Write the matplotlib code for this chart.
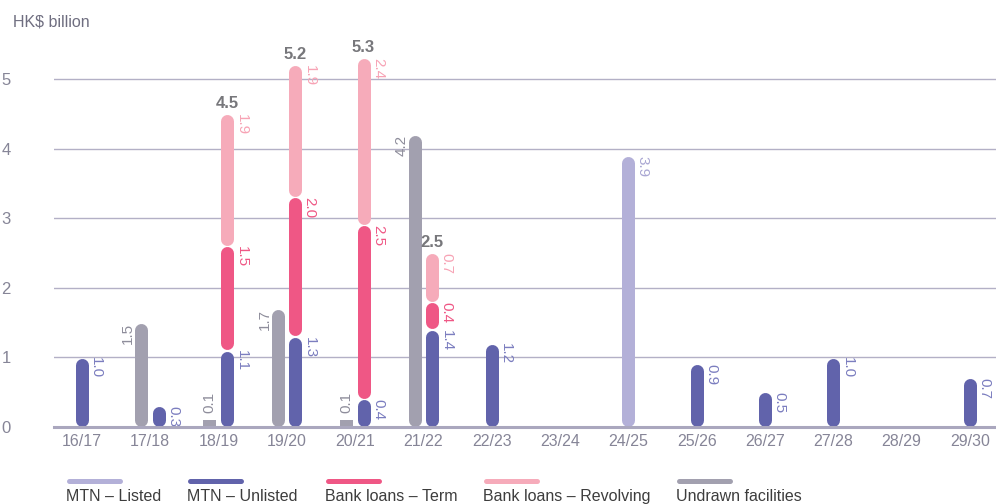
import matplotlib
matplotlib.use("Agg")
import matplotlib.pyplot as plt
from matplotlib.lines import Line2D

plt.rcParams.update({
    "font.family": ["Liberation Sans", "DejaVu Sans"],
    "font.size": 11.5,
})

years = ["16/17", "17/18", "18/19", "19/20", "20/21", "21/22", "22/23",
         "23/24", "24/25", "25/26", "26/27", "27/28", "28/29", "29/30"]
mtn_listed = [0, 0, 0, 0, 0, 0, 0, 0, 3.9, 0, 0, 0, 0, 0]
mtn_unlisted = [1.0, 0.3, 1.1, 1.3, 0.4, 1.4, 1.2, 0, 0, 0.9, 0.5, 1.0, 0, 0.7]
bank_term = [0, 0, 1.5, 2.0, 2.5, 0.4, 0, 0, 0, 0, 0, 0, 0, 0]
bank_revolving = [0, 0, 1.9, 1.9, 2.4, 0.7, 0, 0, 0, 0, 0, 0, 0, 0]
undrawn = [0, 1.5, 0.1, 1.7, 0.1, 4.2, 0, 0, 0, 0, 0, 0, 0, 0]

# name, values, bar colour, label colour
stack = [
    ("MTN – Listed", mtn_listed, "#b3b0d8", "#aaa7d3"),
    ("MTN – Unlisted", mtn_unlisted, "#6163ab", "#7b7dbf"),
    ("Bank loans – Term", bank_term, "#ef5785", "#ef5785"),
    ("Bank loans – Revolving", bank_revolving, "#f6abba", "#f7a3b5"),
]
GREY, GREY_TXT = "#a2a0af", "#8e8d9b"
TOTAL_TXT = "#77777b"
TICK_TXT = "#868597"
GRID = "#b3b0c6"

W, H = 996, 504
fig = plt.figure(figsize=(W / 100, H / 100), dpi=100)
ax_l, ax_r, ax_b, ax_t = 54, 996, 427, 30
ax = fig.add_axes([ax_l / W, (H - ax_b) / H, (ax_r - ax_l) / W, (ax_b - ax_t) / H])

px_x = 68.33          # pixels per category
px_y = 69.6           # pixels per HK$ bn
x0 = 81.7 - ax_l      # first category centre in px from axes left
ax.set_xlim(-x0 / px_x, (ax_r - ax_l - x0) / px_x)
ax.set_ylim(0, (ax_b - ax_t) / px_y)

bar_px = 13
bar_pt = bar_px * 0.72
r = bar_px / 2 / px_y
gap = 0.6 / px_y


def capsule(x, y0, y1, color):
    if (y1 - y0) * px_y < bar_px:
        ax.bar(x, y1 - y0, bottom=y0, width=bar_px / px_x, color=color,
               linewidth=0, zorder=3)
    else:
        ax.plot([x, x], [y0 + r + gap, y1 - r - gap], color=color,
                linewidth=bar_pt, solid_capstyle="round", zorder=3)


for i, yr in enumerate(years):
    has_grey = undrawn[i] > 0
    xs = i + 0.125 if has_grey else i
    if has_grey:
        xg = i - 0.125
        v = undrawn[i]
        capsule(xg, 0, v, GREY)
        if v < 0.2:
            ax.text(xg, v + 7 / px_y, f"{v:.1f}", rotation=90, ha="center",
                    va="bottom", color=GREY_TXT, fontsize=11)
        else:
            ax.text(xg - 13.5 / px_x, v, f"{v:.1f}", rotation=90, ha="center",
                    va="top", color=GREY_TXT, fontsize=11)
    bottom = 0
    parts = 0
    for name, vals, col, tcol in stack:
        v = vals[i]
        if v <= 0:
            continue
        capsule(xs, bottom, bottom + v, col)
        ax.text(xs + 14.5 / px_x, bottom + v, f"{v:.1f}", rotation=270,
                ha="center", va="top", color=tcol, fontsize=11)
        bottom += v
        parts += 1
    if parts > 1:
        ax.text(xs, bottom + 6 / px_y, f"{bottom:.1f}", ha="center",
                va="baseline", color=TOTAL_TXT, fontsize=12, fontweight="bold")

ax.set_yticks(range(0, 6))
ax.set_yticklabels([str(t) for t in range(0, 6)])
ax.set_xticks(range(len(years)))
ax.set_xticklabels(years)
ax.tick_params(axis="y", length=0, pad=31, labelsize=12, labelcolor=TICK_TXT)
ax.tick_params(axis="x", length=0, pad=5, labelsize=11.5, labelcolor=TICK_TXT)
for t in range(1, 6):
    ax.axhline(t, color=GRID, linewidth=1.0, zorder=1)
ax.axhline(0, color="#aaa7be", linewidth=2.2, zorder=4, clip_on=False)
for s in ax.spines.values():
    s.set_visible(False)

fig.text(12.5 / W, 1 - 22.5 / H, "HK$ billion", ha="left", va="center",
         color="#6f6e80", fontsize=11.5)

# legend drawn by hand: swatch above, label below
legend_x = [66, 187, 325, 483, 676]
legend_items = [(n, c) for n, _, c, _ in stack] + [("Undrawn facilities", GREY)]
for lx, (name, col) in zip(legend_x, legend_items):
    fig.add_artist(Line2D([(lx + 2.5) / W, (lx + 54) / W],
                          [1 - 480.7 / H, 1 - 480.7 / H],
                          color=col, linewidth=3.6, solid_capstyle="round"))
    fig.text(lx / W, 1 - 496.5 / H, name, ha="left", va="center",
             color="#3d3d3d", fontsize=11.5)

fig.savefig("out.png", dpi=100)
